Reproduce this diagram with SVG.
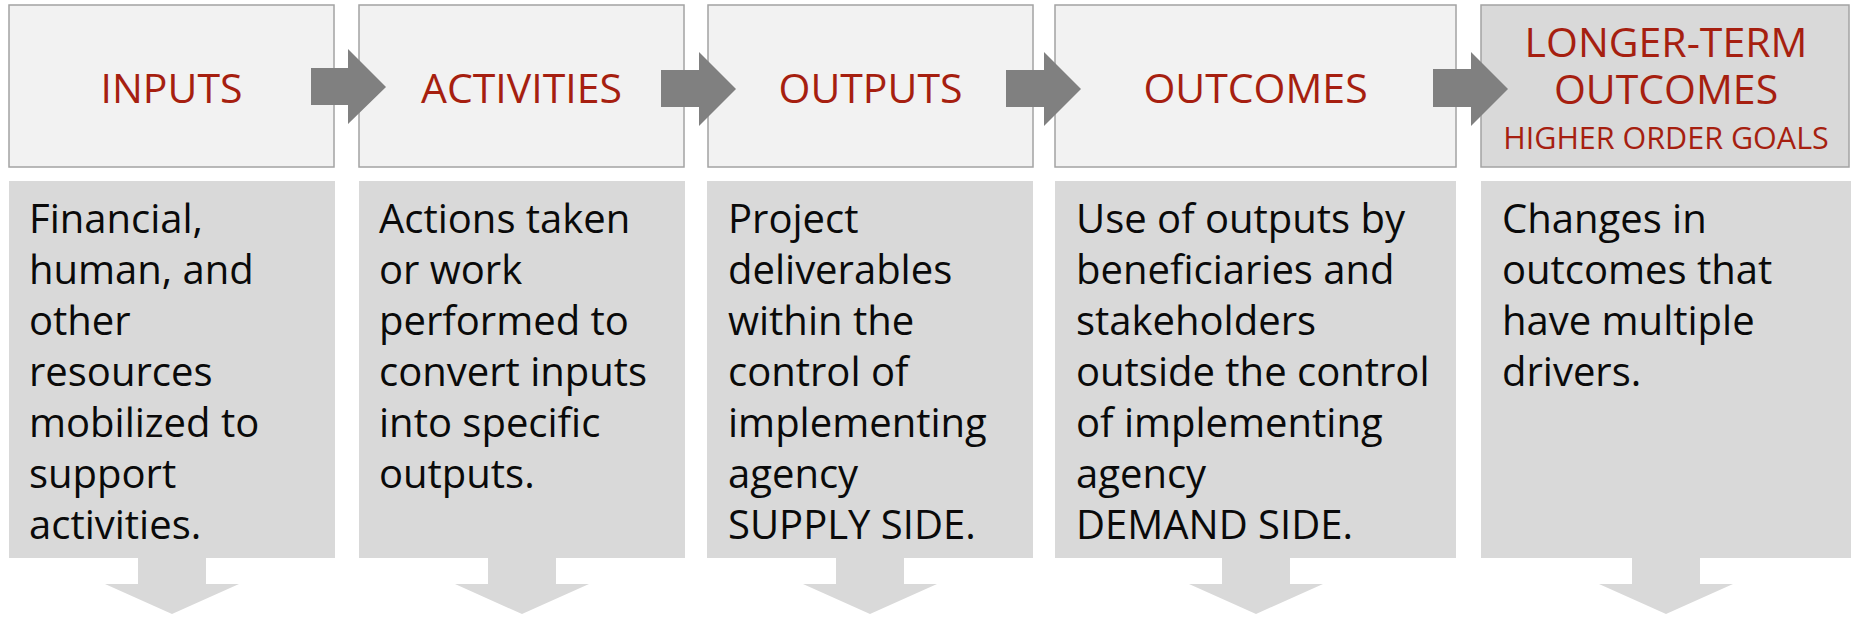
<svg xmlns="http://www.w3.org/2000/svg" width="1851" height="619" viewBox="0 0 1851 619">
  <style>
    .head { fill: #f2f2f2; stroke: #a3a3a3; stroke-width: 1.5; }
    .head.dark { fill: #d9d9d9; }
    .body { fill: #d9d9d9; }
    .title { font-family: "Open Sans", "Noto Sans", sans-serif; font-size: 41px; fill: #a61f10; text-anchor: middle; }
    .sub { font-size: 30.5px; }
    .desc { font-family: "Open Sans", "Noto Sans", sans-serif; font-size: 40px; fill: #0a0a0a; }
    .flow { fill: #808080; }
    .down { fill: #d9d9d9; }
  </style>

  <!-- stage headers and descriptions -->
  <g id="inputs">
    <rect class="head" x="9" y="5" width="325" height="162"/>
    <text class="title" x="171.5" y="103">INPUTS</text>
    <rect class="body" x="9" y="181" width="326" height="377"/>
    <text class="desc">
      <tspan x="29" y="233">Financial,</tspan>
      <tspan x="29" y="284">human, and</tspan>
      <tspan x="29" y="335">other</tspan>
      <tspan x="29" y="386">resources</tspan>
      <tspan x="29" y="437">mobilized to</tspan>
      <tspan x="29" y="488">support</tspan>
      <tspan x="29" y="539">activities.</tspan>
    </text>
  </g>

  <g id="activities">
    <rect class="head" x="359" y="5" width="325" height="162"/>
    <text class="title" x="521.5" y="103">ACTIVITIES</text>
    <rect class="body" x="359" y="181" width="326" height="377"/>
    <text class="desc">
      <tspan x="379" y="233">Actions taken</tspan>
      <tspan x="379" y="284">or work</tspan>
      <tspan x="379" y="335">performed to</tspan>
      <tspan x="379" y="386">convert inputs</tspan>
      <tspan x="379" y="437">into specific</tspan>
      <tspan x="379" y="488">outputs.</tspan>
    </text>
  </g>

  <g id="outputs">
    <rect class="head" x="708" y="5" width="325" height="162"/>
    <text class="title" x="870.5" y="103">OUTPUTS</text>
    <rect class="body" x="707" y="181" width="326" height="377"/>
    <text class="desc">
      <tspan x="728" y="233">Project</tspan>
      <tspan x="728" y="284">deliverables</tspan>
      <tspan x="728" y="335">within the</tspan>
      <tspan x="728" y="386">control of</tspan>
      <tspan x="728" y="437">implementing</tspan>
      <tspan x="728" y="488">agency</tspan>
      <tspan x="728" y="539">SUPPLY SIDE.</tspan>
    </text>
  </g>

  <g id="outcomes">
    <rect class="head" x="1055" y="5" width="401" height="162"/>
    <text class="title" x="1255.5" y="103">OUTCOMES</text>
    <rect class="body" x="1055" y="181" width="401" height="377"/>
    <text class="desc">
      <tspan x="1076" y="233">Use of outputs by</tspan>
      <tspan x="1076" y="284">beneficiaries and</tspan>
      <tspan x="1076" y="335">stakeholders</tspan>
      <tspan x="1076" y="386">outside the control</tspan>
      <tspan x="1076" y="437">of implementing</tspan>
      <tspan x="1076" y="488">agency</tspan>
      <tspan x="1076" y="539">DEMAND SIDE.</tspan>
    </text>
  </g>

  <g id="longer-term-outcomes">
    <rect class="head dark" x="1481" y="5" width="368" height="162"/>
    <text class="title" x="1666" y="57">LONGER-TERM</text>
    <text class="title" x="1666" y="104">OUTCOMES</text>
    <text class="title sub" x="1666" y="149">HIGHER ORDER GOALS</text>
    <rect class="body" x="1481" y="181" width="370" height="377"/>
    <text class="desc">
      <tspan x="1502" y="233">Changes in</tspan>
      <tspan x="1502" y="284">outcomes that</tspan>
      <tspan x="1502" y="335">have multiple</tspan>
      <tspan x="1502" y="386">drivers.</tspan>
    </text>
  </g>

  <!-- connectors: block arrows between stages and below each column -->
  <g id="connectors">
    <polygon class="flow" points="311,68 348,68 348,49 386,87 348,124 348,105 311,105"/>
    <polygon class="flow" points="661,70 699,70 699,52 736,89 699,126 699,107 661,107"/>
    <polygon class="flow" points="1006,70 1044,70 1044,52 1081,89 1044,126 1044,107 1006,107"/>
    <polygon class="flow" points="1433,69 1471,69 1471,52 1508,89 1471,126 1471,107 1433,107"/>

    <polygon class="down" points="138,558 206,558 206,584 239,584 172,614 105,584 138,584"/>
    <polygon class="down" points="488,558 556,558 556,584 589,584 522,614 455,584 488,584"/>
    <polygon class="down" points="836,558 904,558 904,584 937,584 870,614 803,584 836,584"/>
    <polygon class="down" points="1222,558 1290,558 1290,584 1323,584 1256,614 1189,584 1222,584"/>
    <polygon class="down" points="1632,558 1700,558 1700,584 1733,584 1666,614 1599,584 1632,584"/>
  </g>
</svg>
